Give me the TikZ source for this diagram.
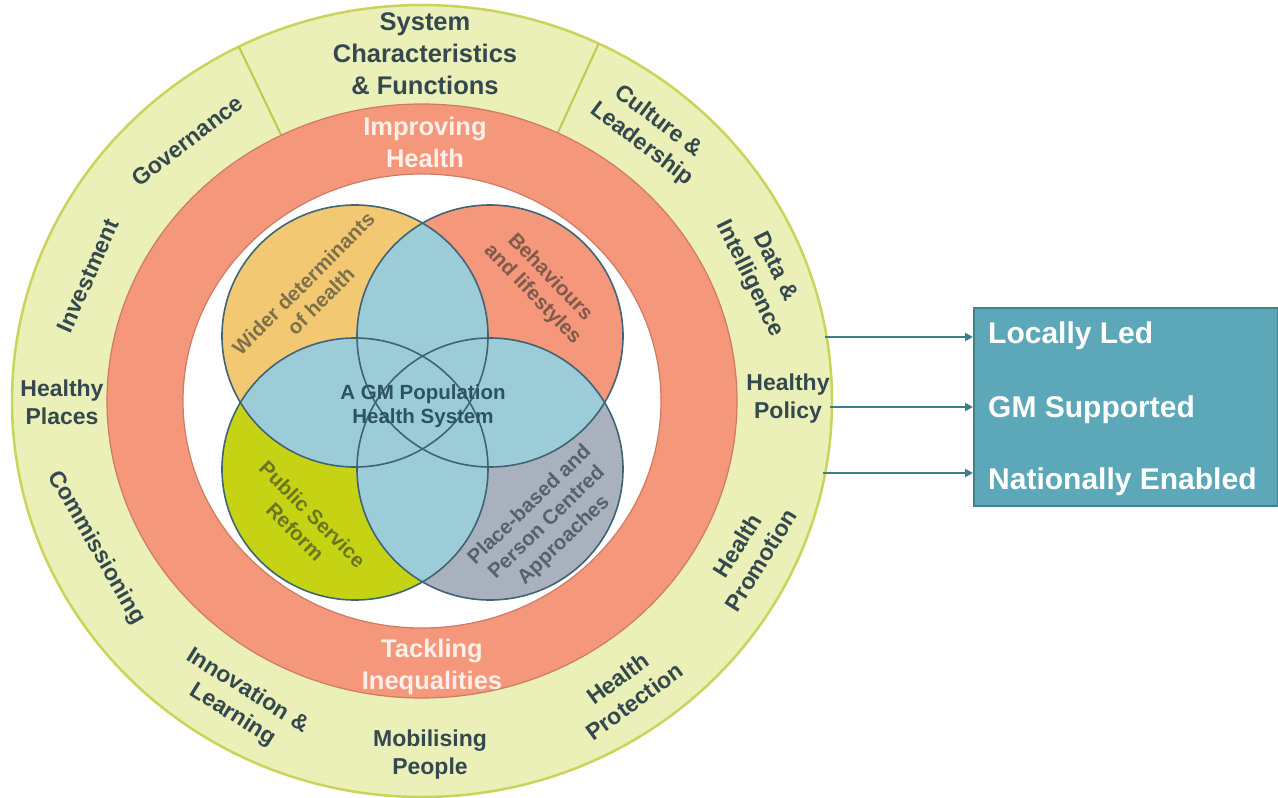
\documentclass[tikz,border=0pt]{standalone}
\usepackage{fontspec}
\setmainfont{Liberation Sans}
\usetikzlibrary{arrows.meta}
\definecolor{ringY}{HTML}{EBF0B8}
\definecolor{ringYb}{HTML}{C8D55A}
\definecolor{divc}{HTML}{BCCB4A}
\definecolor{ringR}{HTML}{F4977B}
\definecolor{ringRb}{HTML}{CF7A62}
\definecolor{vTL}{HTML}{F2C972}
\definecolor{vTR}{HTML}{F4977A}
\definecolor{vBL}{HTML}{C6D314}
\definecolor{vBR}{HTML}{A9B1BE}
\definecolor{vB}{HTML}{9DCCD9}
\definecolor{vline}{HTML}{3F6474}
\definecolor{txtD}{HTML}{34494F}
\definecolor{txtW}{HTML}{FDF0EA}
\definecolor{txtGM}{HTML}{2C5362}
\definecolor{boxF}{HTML}{5CA8B8}
\definecolor{boxB}{HTML}{3F8190}
\definecolor{arrc}{HTML}{3E7C8B}
\begin{document}
\begin{tikzpicture}[x=1pt,y=-1pt,
  vr/.style={x radius=133pt,y radius=131pt},
  outerlbl/.style={text=txtD,font=\fontsize{23}{28}\selectfont\bfseries,align=center,inner sep=0pt},
  titlelbl/.style={text=txtD,font=\fontsize{25.5}{32}\selectfont\bfseries,align=center,inner sep=0pt},
  ringlbl/.style={text=txtW,font=\fontsize{25.5}{32}\selectfont\bfseries,align=center,inner sep=0pt},
  vennlbl/.style={font=\fontsize{20.5}{24.5}\selectfont\bfseries,align=center,inner sep=0pt},
  boxlbl/.style={text=white,font=\fontsize{30}{34}\selectfont\bfseries,anchor=base west,inner sep=0pt},
  divider/.style={draw=divc,line width=2pt},
  arr/.style={draw=arrc,line width=2.4pt,-{Triangle[length=8pt,width=8pt]}}]
\useasboundingbox (0,0) rectangle (1278,798);
\fill[white] (0,0) rectangle (1278,798);

% outer ring
\path[fill=ringY,draw=ringYb,line width=2.5pt] (422,401) ellipse [x radius=410pt,y radius=396pt];
\draw[divider] (239,47) -- (285,143);
\draw[divider] (598.5,44) -- (554,141);

% red ring
\path[fill=ringR,draw=ringRb,line width=1.2pt] (422,401) ellipse [x radius=315pt,y radius=297pt];
\path[fill=white,draw=ringRb,line width=1.2pt] (422,401) ellipse [x radius=239pt,y radius=227pt];

% venn
\coordinate (cTL) at (355,336);
\coordinate (cTR) at (490,336);
\coordinate (cBL) at (355,469);
\coordinate (cBR) at (490,469);
\fill[vTL] (cTL) ellipse [vr];
\fill[vTR] (cTR) ellipse [vr];
\fill[vBL] (cBL) ellipse [vr];
\fill[vBR] (cBR) ellipse [vr];
\begin{scope}
  \clip (cTL) ellipse [vr];
  \fill[vB] (cTR) ellipse [vr];
  \fill[vB] (cBL) ellipse [vr];
  \fill[vB] (cBR) ellipse [vr];
\end{scope}
\begin{scope}
  \clip (cTR) ellipse [vr];
  \fill[vB] (cBL) ellipse [vr];
  \fill[vB] (cBR) ellipse [vr];
\end{scope}
\begin{scope}
  \clip (cBL) ellipse [vr];
  \fill[vB] (cBR) ellipse [vr];
\end{scope}
\draw[vline,line width=1.6pt] (cTL) ellipse [vr];
\draw[vline,line width=1.6pt] (cTR) ellipse [vr];
\draw[vline,line width=1.6pt] (cBL) ellipse [vr];
\draw[vline,line width=1.6pt] (cBR) ellipse [vr];

% venn labels
\node[vennlbl,text=txtGM] (gm) at (423,406) {\fontsize{20.5}{21.5}\selectfont A GM Population\\Health System};
\node[vennlbl,text={rgb,255:red,125;green,112;blue,74},rotate=45] (wid) at (312,292) {Wider determinants\\of health};
\node[vennlbl,text={rgb,255:red,128;green,90;blue,74},rotate=-46] (beh) at (541,286) {Behaviours\\and lifestyles};
\node[vennlbl,text={rgb,255:red,106;green,118;blue,32},rotate=-45] (psr) at (304,523) {Public Service\\Reform};
\node[vennlbl,text={rgb,255:red,86;green,97;blue,110},rotate=44] (pba) at (547,523) {Place-based and\\Person Centred\\Approaches};

% ring labels
\node[titlelbl] (sys) at (425,54) {System\\Characteristics\\\& Functions};
\node[ringlbl] (imp) at (425,142) {Improving\\Health};
\node[ringlbl] (tack) at (432,667) {Tackling\\Inequalities};

% outer labels
\node[outerlbl,rotate=37.5] (gov) at (187,141) {Governance};
\node[outerlbl,rotate=66] (inv) at (88,276) {Investment};
\node[outerlbl] (hpl) at (62,402) {Healthy\\Places};
\node[outerlbl,rotate=-60] (com) at (96,548) {Commissioning};
\node[outerlbl,rotate=-32] (inn) at (240,703) {Innovation \&\\Learning};
\node[outerlbl] (mob) at (430,755) {Mobilising\\People};
\node[outerlbl,rotate=36] (hpr) at (626,690) {Health\\Protection};
\node[outerlbl,rotate=58] (hpm) at (749,553) {Health\\Promotion};
\node[outerlbl] (hpo) at (788,399) {Healthy\\Policy};
\node[outerlbl,rotate=-64] (dat) at (762,273) {Data \&\\Intelligence};
\node[outerlbl,rotate=-37] (cul) at (650,133) {Culture \&\\Leadership};

% box
\node[fill=boxF,draw=boxB,line width=2pt,minimum width=304pt,minimum height=198pt,inner sep=0pt,anchor=north west] (box) at (973,307) {};
\node[boxlbl] (t1) at (988,343) {Locally Led};
\node[boxlbl] (t2) at (988,417) {GM Supported};
\node[boxlbl] (t3) at (988,489) {Nationally Enabled};

% arrows
\coordinate (s1) at (825,337);
\coordinate (s2) at (830,407);
\coordinate (s3) at (823,473);
\draw[arr] (s1) -- (s1 -| box.west);
\draw[arr] (s2) -- (s2 -| box.west);
\draw[arr] (s3) -- (s3 -| box.west);
\end{tikzpicture}
\end{document}
